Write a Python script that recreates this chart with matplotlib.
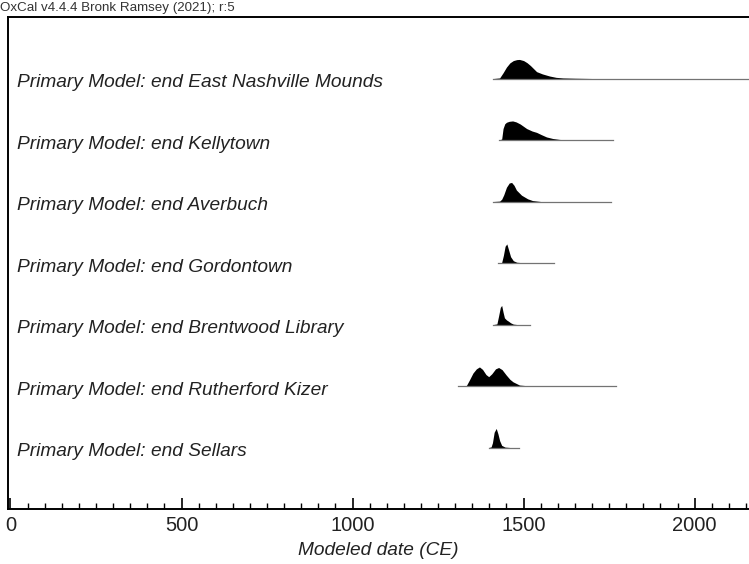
import matplotlib.pyplot as plt
from matplotlib.ticker import MultipleLocator

plt.rcParams['font.family'] = ['Liberation Sans', 'DejaVu Sans']

# labels from top to bottom
labels = ["Primary Model: end East Nashville Mounds",
          "Primary Model: end Kellytown",
          "Primary Model: end Averbuch",
          "Primary Model: end Gordontown",
          "Primary Model: end Brentwood Library",
          "Primary Model: end Rutherford Kizer",
          "Primary Model: end Sellars"]

# baseline range of each distribution (CE)
line_start = [1412, 1427, 1412, 1424, 1412, 1307, 1398]
line_end = [2200, 1760, 1757, 1588, 1518, 1769, 1488]

# posterior shapes (relative height)
nash_yr = [1412, 1430, 1440, 1450, 1460, 1470, 1480, 1488, 1500, 1510, 1520, 1538, 1555, 1576, 1595, 1615, 1650, 1700]
nash_p = [0, 0.03, 0.3, 0.6, 0.82, 0.94, 0.99, 1.0, 0.94, 0.83, 0.68, 0.36, 0.24, 0.13, 0.06, 0.03, 0.015, 0]

kelly_yr = [1427, 1436, 1440, 1445, 1450, 1458, 1468, 1478, 1490, 1509, 1525, 1538, 1552, 1567, 1585, 1605, 1640]
kelly_p = [0, 0.05, 0.6, 0.85, 0.93, 0.98, 1.0, 0.95, 0.84, 0.6, 0.47, 0.4, 0.28, 0.16, 0.08, 0.03, 0]

aver_yr = [1412, 1430, 1436, 1442, 1450, 1458, 1465, 1472, 1479, 1494, 1512, 1526, 1550]
aver_p = [0, 0.02, 0.12, 0.35, 0.75, 0.97, 1.0, 0.85, 0.6, 0.33, 0.14, 0.05, 0]

gord_yr = [1424, 1436, 1441, 1446, 1451, 1456, 1462, 1470, 1480, 1500, 1520]
gord_p = [0, 0.03, 0.4, 0.88, 1.0, 0.7, 0.33, 0.12, 0.04, 0.01, 0]

brent_yr = [1412, 1422, 1427, 1432, 1436, 1440, 1444, 1450, 1456, 1462, 1470, 1480]
brent_p = [0, 0.03, 0.45, 0.9, 1.0, 0.65, 0.35, 0.24, 0.17, 0.09, 0.02, 0]

ruth_yr = [1307, 1333, 1342, 1352, 1362, 1371, 1380, 1390, 1398, 1407, 1418, 1427, 1437, 1449, 1460, 1469, 1488, 1520]
ruth_p = [0, 0.03, 0.33, 0.68, 0.9, 1.0, 0.87, 0.6, 0.49, 0.64, 0.9, 0.97, 0.86, 0.58, 0.35, 0.22, 0.05, 0]

sell_yr = [1398, 1405, 1409, 1414, 1420, 1425, 1430, 1436, 1446, 1460]
sell_p = [0, 0.03, 0.25, 0.8, 1.0, 0.72, 0.36, 0.11, 0.02, 0]

years = [nash_yr, kelly_yr, aver_yr, gord_yr, brent_yr, ruth_yr, sell_yr]
probs = [nash_p, kelly_p, aver_p, gord_p, brent_p, ruth_p, sell_p]

fig = plt.figure(figsize=(7.49, 5.64), dpi=100)
ax = fig.add_axes([8 / 749, 55 / 564, 1 - 8 / 749, 492 / 564])

peak = 0.31
for i in range(len(labels)):
    row = 7 - i
    ax.plot([line_start[i], line_end[i]], [row, row], color='0.45', lw=0.9)
    ax.fill_between(years[i], row, [row + peak * p for p in probs[i]],
                    color='black', lw=0)
    ax.text(20, row - 0.14, labels[i], fontsize=13.8, style='italic',
            va='baseline', ha='left', color='#222222')

ax.set_xlim(-7.3, 2159)
ax.set_ylim(0, 8)
ax.set_yticks([])
ax.xaxis.set_major_locator(MultipleLocator(500))
ax.xaxis.set_minor_locator(MultipleLocator(50))
ax.tick_params(axis='x', which='major', direction='in', length=8, width=1.2,
               labelsize=14.5, pad=5, labelcolor='#222222')
ax.tick_params(axis='x', which='minor', direction='in', length=4, width=1.0)
for s in ['left', 'top', 'bottom']:
    ax.spines[s].set_linewidth(1.4)
ax.spines['right'].set_visible(False)
ax.set_xlabel("Modeled date (CE)", fontsize=13.8, style='italic', labelpad=5,
              color='#222222')

fig.text(0.0, 1 - 8 / 564, "OxCal v4.4.4 Bronk Ramsey (2021); r:5",
         fontsize=9.6, va='center', ha='left', color='#333333')

fig.savefig('out.png', dpi=100)
